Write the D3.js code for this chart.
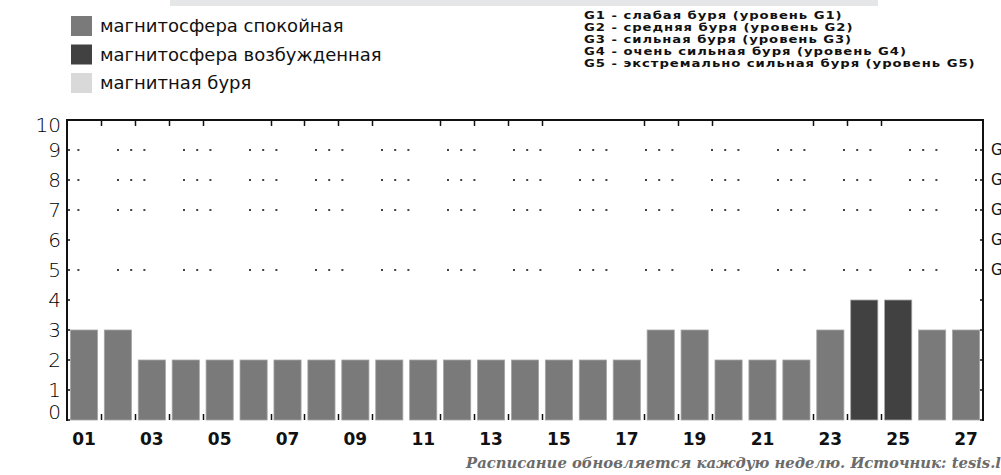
<!DOCTYPE html>
<html lang="ru">
<head>
  <meta charset="utf-8">
  <title>Магнитные бури</title>
  <script src="https://d3js.org/d3.v7.min.js"></script>
  <style>
    body { margin: 0; background: #fff; overflow: hidden; }
  </style>
</head>
<body>
  <div id="my_dataviz"></div>
  <script>
    // data
    var days = d3.range(1, 28);
    var kpValues = [3, 3, 2, 2, 2, 2, 2, 2, 2, 2, 2, 2, 2, 2, 2, 2, 2, 3, 3, 2, 2, 2, 3, 4, 4, 3, 3];
    var stateOfDay = ["calm", "calm", "calm", "calm", "calm", "calm", "calm", "calm", "calm", "calm",
      "calm", "calm", "calm", "calm", "calm", "calm", "calm", "calm", "calm", "calm",
      "calm", "calm", "calm", "excited", "excited", "calm", "calm"];
    var dayLabels = ["01", "03", "05", "07", "09", "11", "13", "15", "17", "19", "21", "23", "25", "27"];
    var yTicks = [0, 1, 2, 3, 4, 5, 6, 7, 8, 9, 10];
    var gridLevels = [5, 7, 8, 9];
    var stormLevels = [9, 8, 7, 6, 5];
    var stormNames = ["G5", "G4", "G3", "G2", "G1"];
    var tickDays = [2, 3, 4, 5, 7, 8, 9, 10, 12, 13, 14, 15, 18, 19, 20, 23, 24, 25];
    var legendStates = ["calm", "excited", "storm"];
    var legendLabels = ["магнитосфера спокойная", "магнитосфера возбужденная", "магнитная буря"];
    var stormLegend = [
      "G1 - слабая буря (уровень G1)",
      "G2 - средняя буря (уровень G2)",
      "G3 - сильная буря (уровень G3)",
      "G4 - очень сильная буря (уровень G4)",
      "G5 - экстремально сильная буря (уровень G5)"
    ];
    var footer = "Расписание обновляется каждую неделю. Источник: tesis.lebedev.ru";

    var colors = { calm: "#7a7a7a", excited: "#414141", storm: "#d9d9d9" };

    var W = 1001, H = 475;
    var plotLeft = 67, plotRight = 983, plotTop = 120, plotBottom = 420;

    var svg = d3.select("#my_dataviz")
      .append("svg")
      .attr("width", W)
      .attr("height", H);

    // grey strip at the very top
    svg.append("rect")
      .attr("x", 170).attr("y", 0)
      .attr("width", 708).attr("height", 6)
      .attr("fill", "#e5e6e7");

    var x = d3.scaleBand()
      .domain(days)
      .range([plotLeft, plotRight])
      .paddingInner(0.2)
      .paddingOuter(0.1);

    var y = d3.scaleLinear()
      .domain([0, 10])
      .range([plotBottom, plotTop]);

    // dotted storm levels
    svg.append("g")
      .selectAll("line")
      .data(gridLevels)
      .enter()
      .append("line")
      .attr("x1", plotLeft).attr("x2", plotRight)
      .attr("y1", function (d) { return y(d); })
      .attr("y2", function (d) { return y(d); })
      .attr("stroke", "#444")
      .attr("stroke-width", 2)
      .attr("stroke-dasharray", "2 11.2 2 11.2 2 37.6")
      .attr("stroke-dashoffset", 16);

    // bars
    svg.append("g")
      .selectAll("rect")
      .data(days)
      .enter()
      .append("rect")
      .attr("x", function (d) { return x(d); })
      .attr("width", x.bandwidth())
      .attr("y", function (d, i) { return y(kpValues[i]); })
      .attr("height", function (d, i) { return y(0) - y(kpValues[i]); })
      .attr("fill", function (d, i) { return colors[stateOfDay[i]]; })
      .attr("stroke", "#a5a5a5")
      .attr("stroke-width", 0.8);

    // frame: left, right, top
    var frame = svg.append("g").attr("stroke", "#111").attr("stroke-width", 2);
    frame.append("line").attr("x1", plotLeft).attr("x2", plotLeft).attr("y1", plotTop).attr("y2", plotBottom + 1);
    frame.append("line").attr("x1", plotRight).attr("x2", plotRight).attr("y1", plotTop).attr("y2", plotBottom + 1);
    frame.append("line").attr("x1", plotLeft - 1).attr("x2", plotRight + 1).attr("y1", plotTop).attr("y2", plotTop);

    // ticks between days, top and bottom
    var gap = (x.step() - x.bandwidth()) / 2;
    var tickG = svg.append("g").attr("stroke", "#111").attr("stroke-width", 1.5);
    tickDays.forEach(function (d) {
      var tx = Math.round(x(d) - gap) + 0.5;
      tickG.append("line").attr("x1", tx).attr("x2", tx).attr("y1", plotTop).attr("y2", plotTop + 6);
      tickG.append("line").attr("x1", tx).attr("x2", tx).attr("y1", plotBottom - 6).attr("y2", plotBottom);
    });

    // inward ticks on the side axes
    yTicks.forEach(function (d) {
      tickG.append("line").attr("x1", plotLeft).attr("x2", plotLeft + 3).attr("y1", y(d)).attr("y2", y(d));
      tickG.append("line").attr("x1", plotRight - 3).attr("x2", plotRight).attr("y1", y(d)).attr("y2", y(d));
    });

    // y labels
    svg.append("g")
      .selectAll("text")
      .data(yTicks)
      .enter()
      .append("text")
      .attr("x", 61)
      .attr("y", function (d) { return Math.max(Math.min(y(d), 412), 125); })
      .attr("dy", "0.36em")
      .attr("text-anchor", "end")
      .style("font-family", "DejaVu Sans")
      .style("font-weight", 200)
      .style("font-size", "20px")
      .attr("fill", "#000")
      .text(function (d) { return d; });

    // storm level names on the right (cut by the window edge)
    svg.append("g")
      .selectAll("text")
      .data(stormLevels)
      .enter()
      .append("text")
      .attr("x", 991)
      .attr("y", function (d) { return y(d); })
      .attr("dy", "0.36em")
      .style("font-family", "DejaVu Sans")
      .style("font-size", "15px")
      .attr("fill", "#111")
      .text(function (d, i) { return stormNames[i]; });

    // day labels
    svg.append("g")
      .selectAll("text")
      .data(dayLabels)
      .enter()
      .append("text")
      .attr("x", function (d) { return x(+d) + x.bandwidth() / 2; })
      .attr("y", 439)
      .attr("dy", "0.36em")
      .attr("text-anchor", "middle")
      .style("font-family", "DejaVu Sans")
      .style("font-weight", "bold")
      .style("font-size", "17px")
      .attr("fill", "#111")
      .text(function (d) { return d; });

    // legend of states
    var legend = svg.append("g");
    legendStates.forEach(function (s, i) {
      var ly = 16 + i * 28.5;
      legend.append("rect")
        .attr("x", 71).attr("y", ly)
        .attr("width", 21).attr("height", 20)
        .attr("fill", colors[s]);
      legend.append("text")
        .attr("x", 100).attr("y", ly + 10)
        .attr("dy", "0.36em")
        .style("font-family", "DejaVu Sans")
        .style("font-size", "18px")
        .attr("fill", "#111")
        .text(legendLabels[i]);
    });

    // legend of storm levels, stretched like the original
    var storm = legend.append("g")
      .attr("transform", "translate(584,0) scale(1.2,1)");
    stormLegend.forEach(function (t, i) {
      storm.append("text")
        .attr("x", 0).attr("y", 15 + i * 12)
        .attr("dy", "0.36em")
        .style("font-family", "DejaVu Sans")
        .style("font-weight", "bold")
        .style("font-size", "11px")
        .style("letter-spacing", "0.8px")
        .attr("fill", "#111")
        .text(t);
    });

    // footer
    svg.append("text")
      .attr("x", 466).attr("y", 468)
      .style("font-family", "DejaVu Serif")
      .style("font-style", "italic")
      .style("font-weight", "bold")
      .style("font-size", "14.8px")
      .attr("fill", "#6b6b6b")
      .text(footer);
  </script>
</body>
</html>
